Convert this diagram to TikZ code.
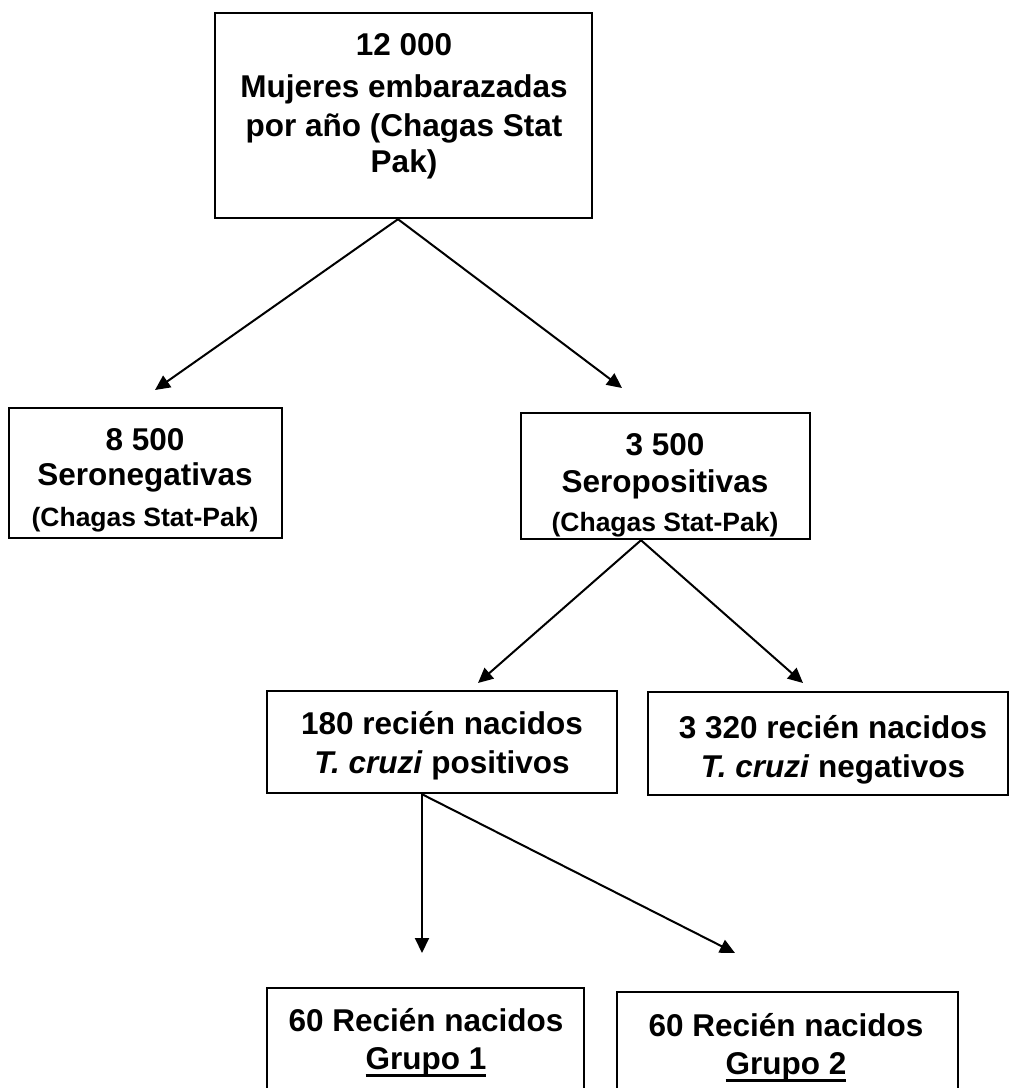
\documentclass[tikz,border=0pt]{standalone}
\usepackage{fontspec}
\setmainfont{Liberation Sans}
\usetikzlibrary{arrows.meta,fit}
\newcommand\myul[1]{\setbox0\hbox{#1}\rlap{\rule[-3.75pt]{\wd0}{1.5pt}}\box0}
\begin{document}
\begin{tikzpicture}[x=0.5pt,y=-0.5pt,
  box/.style={draw, line width=1.2pt, inner sep=0pt},
  lbl/.style={anchor=base, inner sep=0pt, font=\fontsize{15.75}{18}\selectfont\bfseries},
  sml/.style={anchor=base, inner sep=0pt, font=\fontsize{13.25}{15}\selectfont\bfseries},
  arr/.style={line width=1pt, -{Triangle[length=7.5pt,width=7pt]}}]
\useasboundingbox (0,0) rectangle (1010,1088);
\clip (0,0) rectangle (1010,1088);

% boxes
\node[box, fit={(215,13)(592,218)}] (top) {};
\node[box, fit={(9,408)(282,538)}] (neg) {};
\node[box, fit={(521,413)(810,539)}] (pos) {};
\node[box, fit={(267,691)(617,793)}] (tpos) {};
\node[box, fit={(648,692)(1008,795)}] (tneg) {};
\node[box, fit={(267,988)(584,1120)}] (g1) {};
\node[box, fit={(617,992)(958,1120)}] (g2) {};

% texts
\node[lbl] (top1) at (404,55) {12 000};
\node[lbl] (top2) at (404,97) {Mujeres embarazadas};
\node[lbl] (top3) at (404,136) {por año (Chagas Stat};
\node[lbl] (top4) at (404,172) {Pak)};

\node[lbl] (neg1) at (145,450) {8 500};
\node[lbl] (neg2) at (145,485) {Seronegativas};
\node[sml] (neg3) at (145,526) {(Chagas Stat-Pak)};

\node[lbl] (pos1) at (665,455) {3 500};
\node[lbl] (pos2) at (665,492) {Seropositivas};
\node[sml] (pos3) at (665,531) {(Chagas Stat-Pak)};

\node[lbl] (tpos1) at (442,734) {180 recién nacidos};
\node[lbl] (tpos2) at (442,773) {\textit{T. cruzi} positivos};

\node[lbl] (tneg1) at (833,738) {3 320 recién nacidos};
\node[lbl] (tneg2) at (833,777) {\textit{T. cruzi} negativos};

\node[lbl] (g1a) at (426,1031) {60 Recién nacidos};
\node[lbl] (g1b) at (426,1069) {\myul{Grupo 1}};

\node[lbl] (g2a) at (786,1036) {60 Recién nacidos};
\node[lbl] (g2b) at (786,1074) {\myul{Grupo 2}};

% arrow ends
\coordinate (aL) at (155,390);
\coordinate (aR) at (622,388);
\coordinate (bL) at (478,683);
\coordinate (bR) at (803,683);
\coordinate (cD) at (422,953);
\coordinate (cR) at (735,953);

\draw[arr] ([xshift=-2.75pt]top.south) -- (aL);
\draw[arr] ([xshift=-2.75pt]top.south) -- (aR);
\draw[arr] ([xshift=-12.25pt]pos.south) -- (bL);
\draw[arr] ([xshift=-12.25pt]pos.south) -- (bR);
\draw[arr] ([xshift=-10pt]tpos.south) -- (cD);
\draw[arr] ([xshift=-10pt]tpos.south) -- (cR);
\end{tikzpicture}
\end{document}
